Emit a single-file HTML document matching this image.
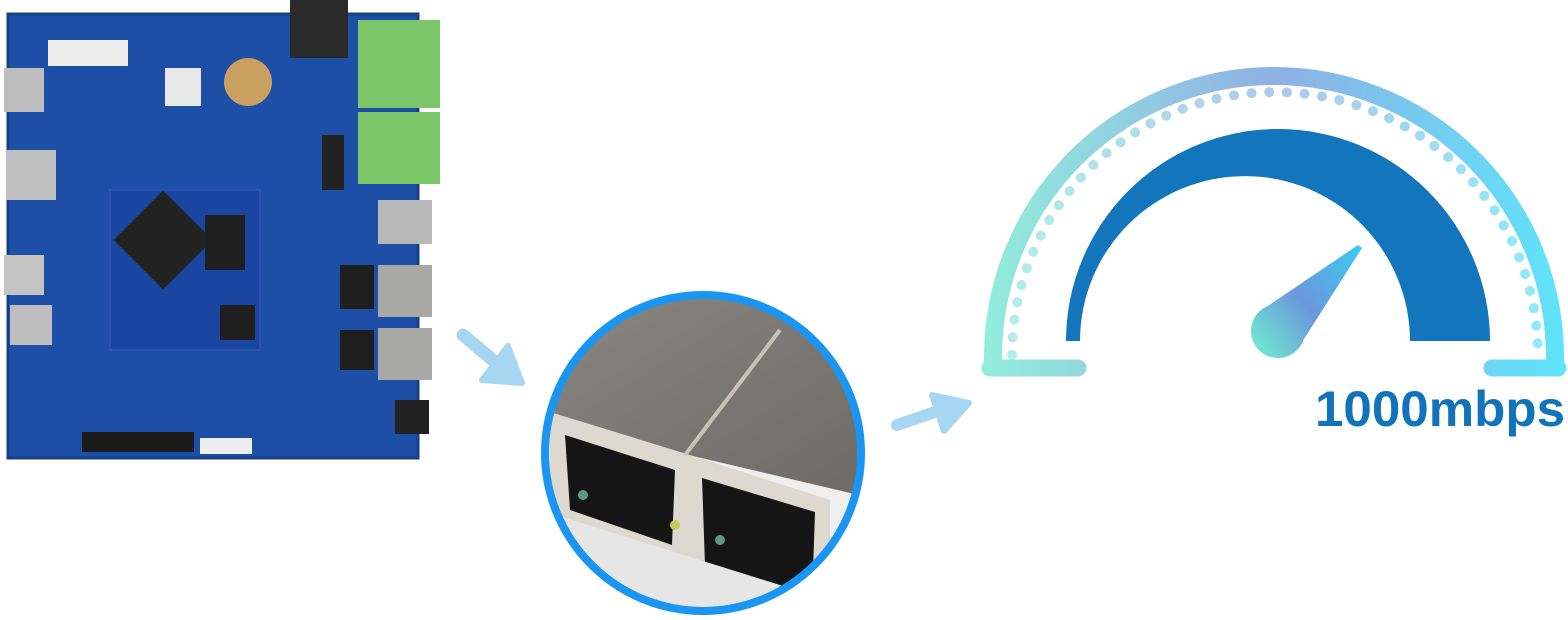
<!DOCTYPE html>
<html><head><meta charset="utf-8"><style>
html,body{margin:0;padding:0;background:#fff;width:1568px;height:620px;overflow:hidden}
</style></head><body>
<svg width="1568" height="620" viewBox="0 0 1568 620" xmlns="http://www.w3.org/2000/svg">
<defs>
<linearGradient id="outer" gradientUnits="userSpaceOnUse" x1="985" y1="0" x2="1565" y2="0">
<stop offset="0" stop-color="#92ecdc"/><stop offset="0.5" stop-color="#8eb0e4"/><stop offset="1" stop-color="#5fe4fa"/></linearGradient>
<linearGradient id="needle" gradientUnits="userSpaceOnUse" x1="1250" y1="340" x2="1362" y2="250">
<stop offset="0" stop-color="#70e6d0"/><stop offset="0.45" stop-color="#6a98dc"/><stop offset="1" stop-color="#3ccaf2"/></linearGradient>
<linearGradient id="metal" x1="0" y1="0" x2="1" y2="1">
<stop offset="0" stop-color="#8a8682"/><stop offset="1" stop-color="#6c6a66"/></linearGradient>
<clipPath id="cc"><circle cx="703" cy="453" r="158"/></clipPath>
</defs>

<rect x="8" y="14" width="410" height="444" fill="#1d4fa6"/>
<rect x="8" y="14" width="410" height="444" fill="none" stroke="#173f88" stroke-width="3"/>
<rect x="290" y="0" width="58" height="58" fill="#2a2a2a"/>
<rect x="358" y="20" width="82" height="88" fill="#7cc66a"/>
<rect x="358" y="112" width="82" height="72" fill="#7cc66a"/>
<rect x="378" y="200" width="54" height="44" fill="#b8b8b8"/>
<rect x="378" y="265" width="54" height="52" fill="#a8a8a4"/>
<rect x="378" y="328" width="54" height="52" fill="#a8a8a4"/>
<rect x="4" y="68" width="40" height="44" fill="#bdbdbd"/>
<rect x="6" y="150" width="50" height="50" fill="#c0c0c0"/>
<rect x="4" y="255" width="40" height="40" fill="#c4c4c4"/>
<rect x="10" y="305" width="42" height="40" fill="#bdbdbd"/>
<rect x="48" y="40" width="80" height="26" fill="#eee"/>
<rect x="165" y="68" width="36" height="38" fill="#e8e8e8"/>
<circle cx="248" cy="82" r="24" fill="#c9a060"/>
<rect x="110" y="190" width="150" height="160" fill="#1a45a0" stroke="#2d5cbb"/>
<rect x="128" y="205" width="70" height="70" fill="#222" transform="rotate(45 163 240)"/>
<rect x="205" y="215" width="40" height="55" fill="#1f1f1f"/>
<rect x="220" y="305" width="35" height="35" fill="#1f1f1f"/>
<rect x="340" y="265" width="34" height="44" fill="#1e1e1e"/>
<rect x="340" y="330" width="34" height="40" fill="#1e1e1e"/>
<rect x="82" y="432" width="112" height="20" fill="#1a1a1a"/>
<rect x="200" y="438" width="52" height="16" fill="#eee"/>
<rect x="395" y="400" width="34" height="34" fill="#222"/>
<rect x="322" y="135" width="22" height="55" fill="#222"/>

<g fill="#a6d6f2" stroke="#a6d6f2" stroke-linejoin="round">
<line x1="463" y1="335" x2="495" y2="362" stroke-width="13" stroke-linecap="round"/>
<polygon points="482,380 508,346 522,383" stroke-width="6"/>
<line x1="897" y1="425" x2="935" y2="412" stroke-width="12" stroke-linecap="round"/>
<polygon points="932,395 969,403 944,431" stroke-width="6"/>
</g>

<g clip-path="url(#cc)">
<rect x="540" y="290" width="330" height="330" fill="#efefef"/>
<polygon points="540,290 880,290 880,500 540,420" fill="url(#metal)"/>
<polygon points="550,412 690,455 690,575 550,520" fill="#ddd8d0"/>
<polygon points="565,435 675,470 672,545 570,510" fill="#151515"/>
<polygon points="690,455 830,500 830,620 690,580" fill="#ddd8d0"/>
<polygon points="702,478 815,512 812,600 705,565" fill="#151515"/>
<line x1="685" y1="455" x2="780" y2="330" stroke="#c8c2b6" stroke-width="4"/>
<polygon points="540,510 860,610 860,620 540,620" fill="#e6e6e6"/>
<circle cx="583" cy="495" r="5" fill="#5b9a80"/>
<circle cx="675" cy="525" r="5" fill="#c8c860"/>
<circle cx="720" cy="540" r="5" fill="#5b9a80"/>
</g>
<circle cx="703" cy="453" r="158" fill="none" stroke="#1a96f2" stroke-width="8"/>

<path d="M993,368 L993,357 A281 281 0 0 1 1555,357 L1555,368" fill="none" stroke="url(#outer)" stroke-width="18"/>
<line x1="990" y1="368" x2="1078" y2="368" stroke="url(#outer)" stroke-width="17" stroke-linecap="round"/>
<line x1="1492" y1="368" x2="1558" y2="368" stroke="url(#outer)" stroke-width="17" stroke-linecap="round"/>
<path d="M1012,355 A263 263 0 0 1 1538,355" fill="none" stroke="url(#outer)" stroke-opacity="0.7" stroke-width="10" stroke-dasharray="0.1 17.6" stroke-linecap="round"/>
<path d="M1066,341 A212 212 0 0 1 1490,341 L1410,341 A165 165 0 0 0 1080,341 Z" fill="#1375bc"/>
<circle cx="1278" cy="331" r="27" fill="url(#needle)"/>
<polygon points="1259,312 1297,350 1362,248 1358,245" fill="url(#needle)"/>
<text x="1315" y="426" font-family="Liberation Sans, sans-serif" font-weight="bold" font-size="50" fill="#1173ba" textLength="250" lengthAdjust="spacingAndGlyphs">1000mbps</text>
</svg>
</body></html>
